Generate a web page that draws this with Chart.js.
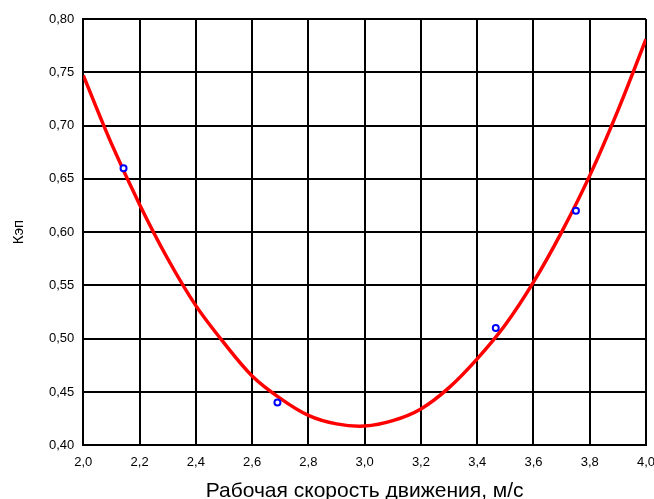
<!DOCTYPE html>
<html>
<head>
<meta charset="utf-8">
<script src="https://cdn.jsdelivr.net/npm/chart.js@4"></script>
<style>
  body { margin: 0; background: #fff; }
  canvas { display: block; }
</style>
</head>
<body>
<canvas id="chart" width="654" height="499"></canvas>
<script>
// measured points
const speedX = [2.143, 2.69, 3.466, 3.751];
const kepY = [0.66, 0.44, 0.51, 0.62];

// trend curve
const curveX = [2.0, 2.1, 2.2, 2.3, 2.4, 2.5, 2.6, 2.7, 2.8, 2.9, 3.0,
  3.1, 3.2, 3.3, 3.4, 3.5, 3.6, 3.7, 3.8, 3.9, 4.0];
const curveY = [0.747, 0.683, 0.626, 0.575, 0.531, 0.496, 0.465, 0.444, 0.428, 0.420, 0.418,
  0.423, 0.434, 0.454, 0.481, 0.513, 0.553, 0.600, 0.653, 0.714, 0.781];

const xTitle = 'Рабочая скорость движения, м/с';
const yTitle = 'Кэп';

const toPoints = (xs, ys) => xs.map((x, i) => ({ x, y: ys[i] }));
const comma = (v, d) => v.toFixed(d).replace('.', ',');

const ctx = document.getElementById('chart');

new Chart(ctx, {
  type: 'scatter',
  data: {
    datasets: [
      {
        type: 'line',
        label: 'trend',
        data: toPoints(curveX, curveY),
        borderColor: '#ff0000',
        borderWidth: 3.5,
        pointRadius: 0,
        tension: 0.33,
        fill: false,
        order: 2,
      },
      {
        label: 'data',
        data: toPoints(speedX, kepY),
        borderColor: '#0000ff',
        backgroundColor: '#ffffff',
        borderWidth: 2,
        pointRadius: 3,
        order: 1,
      },
    ],
  },
  options: {
    responsive: false,
    animation: false,
    layout: { padding: { top: 19, right: 8, left: 10, bottom: -5 } },
    plugins: { legend: { display: false }, tooltip: { enabled: false } },
    scales: {
      x: {
        type: 'linear',
        min: 2,
        max: 4,
        afterFit: (scale) => {
          // let the end labels hang over, the plot fills the canvas
          scale.paddingLeft = 0;
          scale.paddingRight = 0;
        },
        ticks: {
          stepSize: 0.2,
          color: '#000',
          font: { family: 'Liberation Sans', size: 13 },
          padding: 9,
          maxRotation: 0,
          callback: (v) => comma(v, 1),
        },
        grid: { color: '#000', lineWidth: 2, drawTicks: false },
        border: { color: '#000', width: 2 },
        title: {
          display: true,
          text: xTitle,
          color: '#000',
          font: { family: 'Liberation Sans', size: 21 },
          padding: { top: 0, bottom: 0 },
        },
      },
      y: {
        min: 0.4,
        max: 0.8,
        afterFit: (scale) => {
          scale.paddingTop = 0;
          scale.paddingBottom = 0;
        },
        ticks: {
          stepSize: 0.05,
          color: '#000',
          font: { family: 'Liberation Sans', size: 13 },
          padding: 9,
          callback: (v) => comma(v, 2),
        },
        grid: { color: '#000', lineWidth: 2, drawTicks: false },
        border: { color: '#000', width: 2 },
        title: {
          display: true,
          text: yTitle,
          color: '#000',
          font: { family: 'Liberation Sans', size: 15 },
          padding: { top: 0, bottom: 12 },
        },
      },
    },
  },
});
</script>
</body>
</html>
